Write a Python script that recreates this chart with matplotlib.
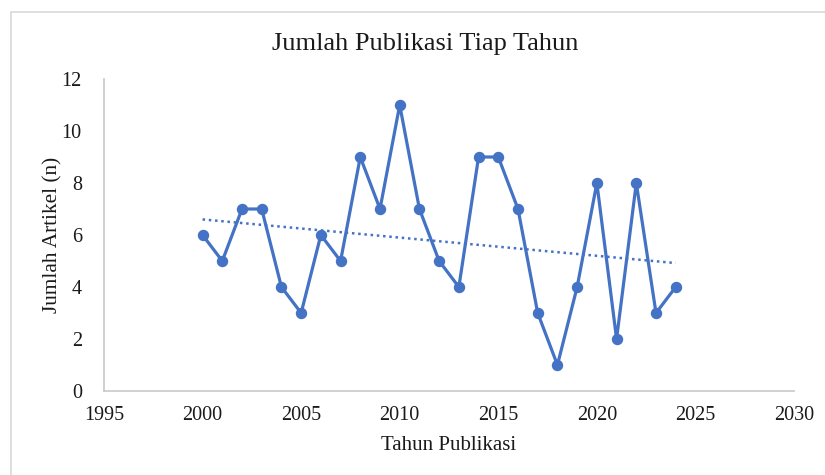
import numpy as np
import matplotlib.pyplot as plt
from matplotlib.patches import Rectangle

years = [2000, 2001, 2002, 2003, 2004, 2005, 2006, 2007, 2008, 2009, 2010, 2011, 2012,
         2013, 2014, 2015, 2016, 2017, 2018, 2019, 2020, 2021, 2022, 2023, 2024]
counts = [6, 5, 7, 7, 4, 3, 6, 5, 9, 7, 11, 7, 5, 4, 9, 9, 7, 3, 1, 4, 8, 2, 8, 3, 4]
x_ticks = [1995, 2000, 2005, 2010, 2015, 2020, 2025, 2030]
y_ticks = [0, 2, 4, 6, 8, 10, 12]

plt.rcParams['font.family'] = ['Liberation Serif', 'DejaVu Serif']

W, H = 825, 475
fig = plt.figure(figsize=(W / 100, H / 100), dpi=100)
fig.patch.set_facecolor('white')

# outer chart border (extends past right/bottom edge)
fig.add_artist(Rectangle((11 / W, -0.1), 1.2, 1 - 12 / H + 0.1, transform=fig.transFigure,
                         fill=False, edgecolor='#D9D9D9', linewidth=1.2))

left, right = 104, 794
top, bottom = 79, 391
ax = fig.add_axes([left / W, 1 - bottom / H, (right - left) / W, (bottom - top) / H])

color = '#4472C4'
ax.plot(years, counts, color=color, linewidth=2.3, marker='o', markersize=7.2, zorder=3)

coef = np.polyfit(years, counts, 1)
tx = np.array([years[0], years[-1]])
ax.plot(tx, np.polyval(coef, tx), color=color, linestyle=(0, (1, 1.5)), linewidth=1.8, zorder=2)

ax.set_xlim(1995, 2030)
ax.set_ylim(0, 12)
ax.set_xticks(x_ticks)
ax.set_yticks(y_ticks)
ax.tick_params(length=0, labelsize=14.5, colors='#1a1a1a')
ax.tick_params(axis='x', pad=11)
ax.tick_params(axis='y', pad=16)
for s in ['top', 'right']:
    ax.spines[s].set_visible(False)
for s in ['left', 'bottom']:
    ax.spines[s].set_color('#C8C8C8')
    ax.spines[s].set_linewidth(1.2)

fig.text(425 / W, 1 - 44 / H, 'Jumlah Publikasi Tiap Tahun', fontsize=19, color='#1a1a1a',
         ha='center', va='center')
ax.set_xlabel('Tahun Publikasi', fontsize=15, color='#1a1a1a', labelpad=8)
ax.set_ylabel('Jumlah Artikel (n)', fontsize=15.3, color='#1a1a1a', labelpad=-1)

fig.savefig('out.png', dpi=100)
